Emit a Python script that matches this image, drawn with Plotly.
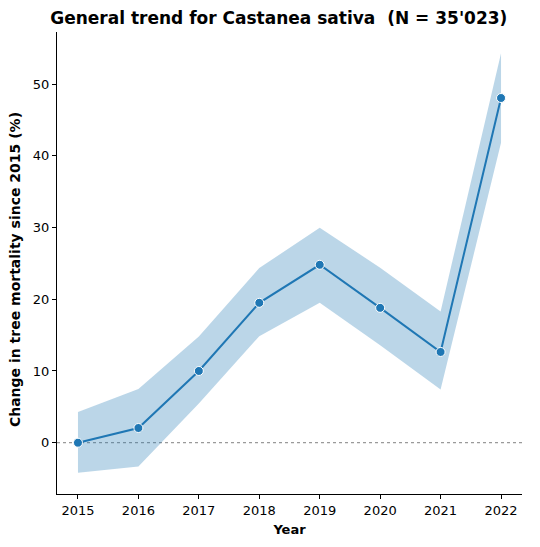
import plotly.graph_objects as go

# Data
years = [2015, 2016, 2017, 2018, 2019, 2020, 2021, 2022]
mortality_change = [0.0, 2.05, 10.0, 19.5, 24.8, 18.8, 12.65, 48.05]
ci_upper = [4.28, 7.49, 14.8, 24.35, 29.95, 24.4, 18.3, 54.3]
ci_lower = [-4.18, -3.3, 5.45, 14.85, 19.5, 13.6, 7.4, 41.8]

blue = "#1f77b4"
font = "DejaVu Sans"

fig = go.Figure()

# confidence band
fig.add_trace(go.Scatter(
    x=years + years[::-1],
    y=ci_upper + ci_lower[::-1],
    mode="lines",
    fill="toself",
    fillcolor="rgba(31,119,180,0.3)",
    line=dict(width=0),
    hoverinfo="skip",
    showlegend=False,
))

# zero reference line
fig.add_hline(y=0, line=dict(color="gray", width=1, dash="dot"), layer="below")

fig.add_trace(go.Scatter(
    x=years,
    y=mortality_change,
    mode="lines+markers",
    line=dict(color=blue, width=2),
    marker=dict(size=9, color=blue, line=dict(color="white", width=1)),
    showlegend=False,
))

fig.update_xaxes(
    range=[2014.653, 2022.347],
    tickvals=years,
    ticks="outside", ticklen=4, tickcolor="black",
    showline=True, linecolor="black", linewidth=1,
    showgrid=False, zeroline=False, automargin=False,
    tickfont=dict(family=font, size=13, color="black"),
    title=dict(text="<b>Year</b>", font=dict(family=font, size=13, color="black"), standoff=8),
)
fig.update_yaxes(
    range=[-7.15, 57.25],
    tickvals=[0, 10, 20, 30, 40, 50],
    ticks="outside", ticklen=4, tickcolor="black",
    showline=True, linecolor="black", linewidth=1,
    showgrid=False, zeroline=False, automargin=False,
    tickfont=dict(family=font, size=13, color="black"),
)

# y label as annotation so it can be placed freely
fig.add_annotation(
    text="<b>Change in tree mortality since 2015 (%)</b>",
    xref="paper", yref="paper", x=-0.09, y=0.485,
    xanchor="center", yanchor="middle", textangle=-90, showarrow=False,
    font=dict(family=font, size=14, color="black"),
)

# page body has an 8px default margin, so the figure is a bit smaller
fig.update_layout(
    width=532, height=539,
    plot_bgcolor="white", paper_bgcolor="white",
    margin=dict(l=49, r=18, t=24, b=53),
    title=dict(
        text="<b>General trend for Castanea sativa \u00a0(N = 35'023)</b>",
        x=0.509, xanchor="center", y=0.981, yanchor="middle",
        font=dict(family=font, size=17, color="black"),
    ),
)

fig.write_html("out.html")
